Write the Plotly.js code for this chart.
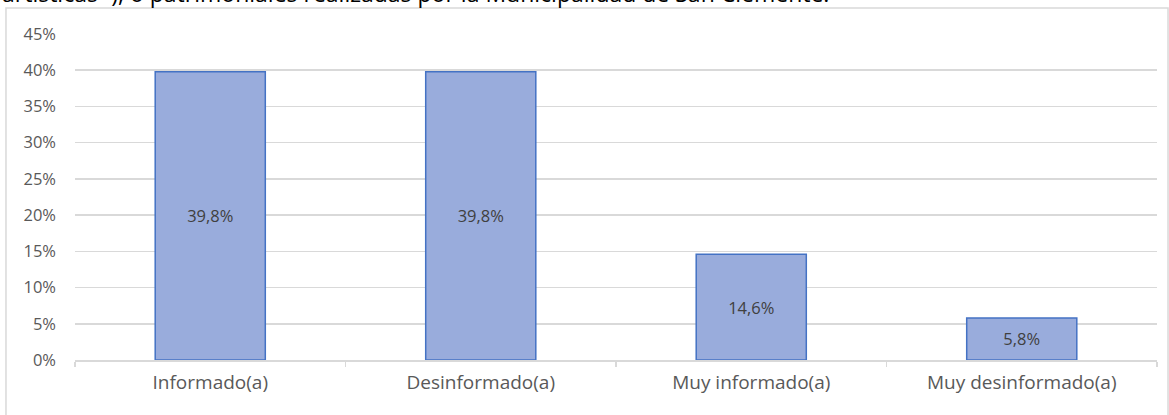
<!DOCTYPE html>
<html>
<head>
<meta charset="utf-8">
<script src="https://cdn.plot.ly/plotly-3.0.1.min.js"></script>
<style>html,body{margin:0;padding:0;background:#fff;}#chart{width:1169px;height:415px;}</style>
</head>
<body>
<div id="chart"></div>
<script>
const categories = ["Informado(a)", "Desinformado(a)", "Muy informado(a)", "Muy desinformado(a)"];
const values = [39.8, 39.8, 14.6, 5.8];
const yTickVals = [0, 5, 10, 15, 20, 25, 30, 35, 40, 45];
const yTickText = ["0%", "5%", "10%", "15%", "20%", "25%", "30%", "35%", "40%", "45%"];
const headerText = "artísticas¨), o patrimoniales realizadas por la Municipalidad de San Clemente.";

const labels = values.map(v => v.toFixed(1).replace('.', ',') + '%');

const trace = {
  type: 'bar',
  x: categories,
  y: values,
  text: labels,
  textposition: 'inside',
  insidetextanchor: 'middle',
  textangle: 0,
  textfont: {family: 'Open Sans, sans-serif', size: 16.5, color: '#404040'},
  marker: {color: '#99acdc', line: {color: '#4472c4', width: 1.5}},
  hoverinfo: 'none'
};

const layout = {
  width: 1169, height: 415,
  margin: {l: 75, r: 12, t: 34, b: 55},
  paper_bgcolor: '#ffffff', plot_bgcolor: '#ffffff',
  bargap: 0.593,
  showlegend: false,
  font: {family: 'Open Sans, sans-serif', color: '#595959'},
  xaxis: {
    type: 'category',
    showline: true, linecolor: '#d9d9d9', linewidth: 1.5,
    ticks: 'outside', tickson: 'boundaries', ticklen: 5, tickcolor: '#d9d9d9', tickwidth: 1.5,
    tickfont: {size: 19, color: '#595959'},
    showgrid: false, zeroline: false,
    ticklabelstandoff: 5
  },
  yaxis: {
    range: [0, 45],
    tickvals: yTickVals, ticktext: yTickText,
    showgrid: true, gridcolor: '#d9d9d9', gridwidth: 1.5,
    zeroline: false, showline: false, ticks: '',
    tickfont: {size: 16.5, color: '#595959'},
    ticklabelstandoff: 18
  },
  shapes: [{
    type: 'rect', xref: 'paper', yref: 'paper',
    x0: -0.0638, x1: 1.0102, y0: -0.2, y1: 1.0798,
    line: {color: '#d9d9d9', width: 1.5}, fillcolor: 'rgba(0,0,0,0)', layer: 'below'
  }],
  annotations: [{
    text: headerText, xref: 'paper', yref: 'paper',
    x: -0.0693, y: 1.0706, xanchor: 'left', yanchor: 'bottom',
    showarrow: false, font: {family: 'Open Sans, sans-serif', size: 23, color: '#000000'}
  }]
};

Plotly.newPlot('chart', [trace], layout, {displayModeBar: false, staticPlot: true});
</script>
</body>
</html>
